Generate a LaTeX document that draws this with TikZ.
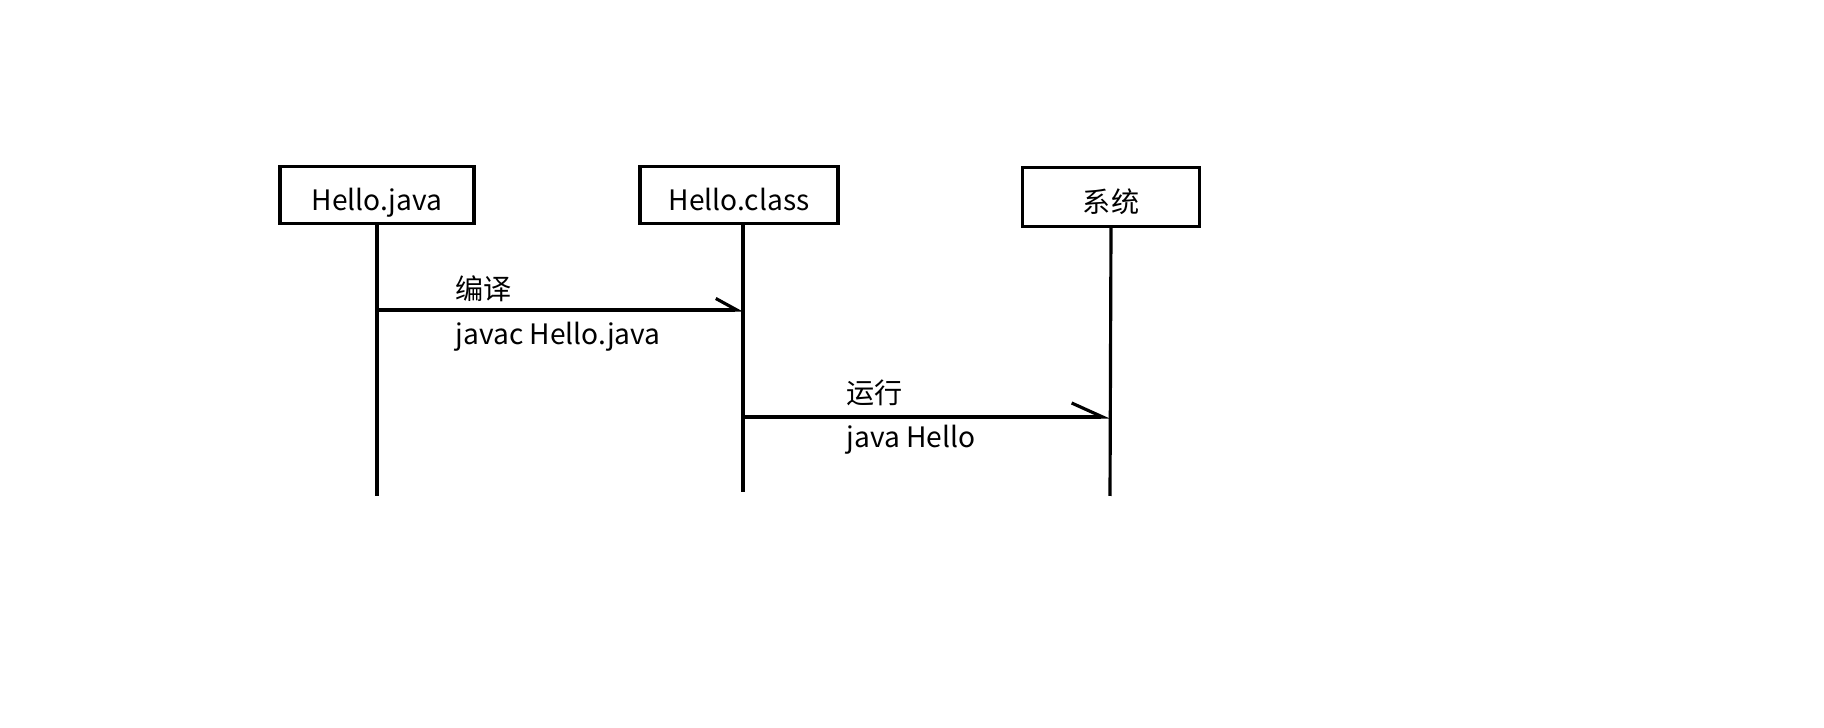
\documentclass[tikz,border=0pt]{standalone}
\usepackage{fontspec}
\setmainfont{Noto Sans CJK SC}
\usetikzlibrary{arrows.meta}

\begin{document}
\begin{tikzpicture}[x=0.01cm,y=-0.01cm,line width=0.9pt,
    every node/.style={font=\fontsize{8}{10}\selectfont},
    box/.style={draw,minimum height=0.57cm,inner sep=0pt,text height=0.9em,text depth=0.04em},
    txt/.style={anchor=base west,inner sep=0pt},
    msg/.style={-{Straight Barb[left,length=2.1mm,width=2.3mm]}},
    msgb/.style={-{Straight Barb[left,length=3.1mm,width=2.8mm]}}]
    \useasboundingbox (0,0) rectangle (1824,728);
    \node[box,minimum width=1.94cm] (hjava) at (377,195) {Hello.java};
    \node[box,minimum width=1.98cm] (hclass) at (739,195) {Hello.class};
    \node[box,minimum width=1.77cm,minimum height=0.59cm] (sys) at (1111,197) {系统};
    \coordinate (e1) at (377,496);
    \coordinate (e2) at (743,492);
    \coordinate (e3) at (1110,496);
    \draw (hjava.south) -- (e1);
    \draw (e2 |- hclass.south) -- (e2);
    \draw (sys.south) -- (e3);
    \coordinate (m1) at (376,310);
    \coordinate (m2) at (743,417);
    \draw[msg] (m1) -- (m1 -| e2);
    \draw[msgb] (m2) -- (m2 -| e3);
    \node[txt] (c1) at (454,300) {编译};
    \node[txt] (c2) at (454,345) {javac Hello.java};
    \node[txt] (r1) at (845,404) {运行};
    \node[txt] (r2) at (845,448) {java Hello};
\end{tikzpicture}
\end{document}
